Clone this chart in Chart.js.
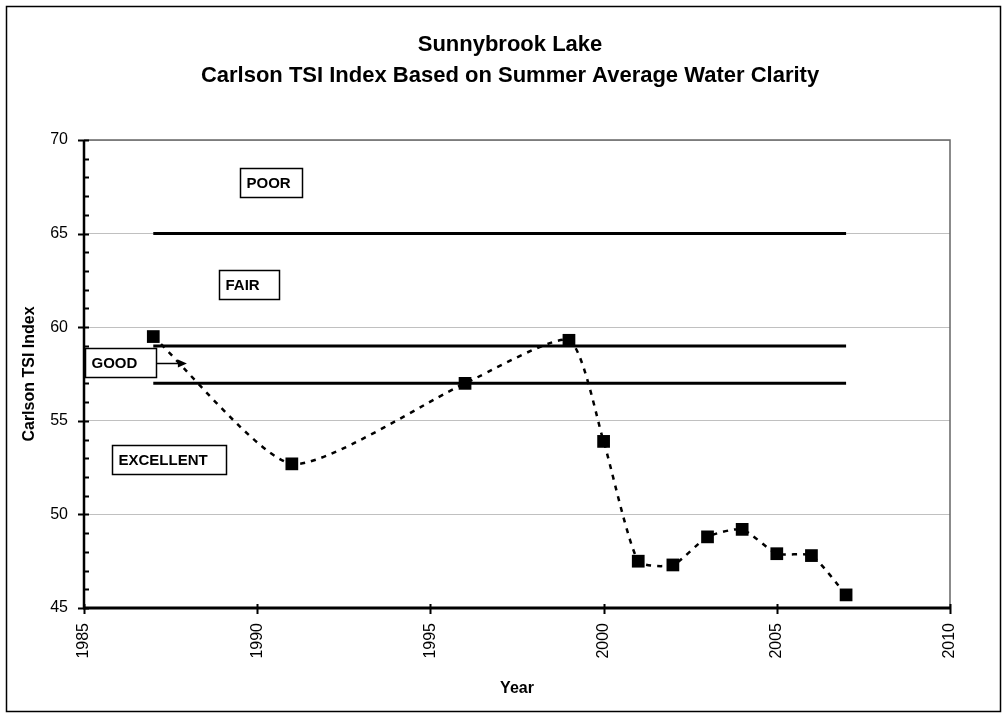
<!DOCTYPE html>
<html>
<head>
<meta charset="utf-8">
<script src="https://cdn.jsdelivr.net/npm/chart.js@4"></script>
<style>
  body { margin: 0; background: #fff; }
  #wrap { width: 1008px; height: 719px; position: relative; }
</style>
</head>
<body>
<div id="wrap"><canvas id="tsi"></canvas></div>
<script>
// sampling years and summer average TSI (from water clarity)
const years = [1987, 1991, 1996, 1999, 2000, 2001, 2002, 2003, 2004, 2005, 2006, 2007];
const tsiValues = [59.5, 52.7, 57.0, 59.3, 53.9, 47.5, 47.3, 48.8, 49.2, 47.9, 47.8, 45.7];

// trophic class boundaries, drawn across the sampled period
const boundaryYears = [1987, 2007];
const boundaryValues = [65, 59, 57];

const xTicks = [1985, 1990, 1995, 2000, 2005, 2010];
const yTicks = [45, 50, 55, 60, 65, 70];

const titleLines = ['Sunnybrook Lake', 'Carlson TSI Index Based on Summer Average Water Clarity'];
const zoneNames = ['POOR', 'FAIR', 'GOOD', 'EXCELLENT'];

const FONT = '"Liberation Sans", Arial, Helvetica, sans-serif';
Chart.defaults.font.family = FONT;
Chart.defaults.color = '#000';

const points = years.map((y, i) => ({ x: y, y: tsiValues[i] }));

const datasets = [{
  data: points,
  showLine: true,
  borderColor: '#000',
  borderWidth: 2.5,
  borderDash: [5, 6],
  tension: 0.2,
  pointStyle: 'rect',
  pointRadius: 9,
  pointHoverRadius: 9,
  pointBackgroundColor: '#000',
  pointBorderWidth: 0
}];
boundaryValues.forEach(v => {
  datasets.push({
    data: boundaryYears.map(y => ({ x: y, y: v })),
    showLine: true,
    borderColor: '#000',
    borderWidth: 3,
    pointRadius: 0,
    pointHoverRadius: 0
  });
});

// where the zone label boxes sit (left year, centre value, box width px)
const zoneBoxes = [
  { x: 1989.50, y: 67.73, w: 62 },
  { x: 1988.90, y: 62.28, w: 60 },
  { x: 1985.03, y: 58.11, w: 71, arrowTo: 1987.97 },
  { x: 1985.81, y: 52.91, w: 114 }
];

const decor = {
  id: 'decor',
  afterDraw(chart) {
    const ctx = chart.ctx;
    const a = chart.chartArea;
    const xs = chart.scales.x, ys = chart.scales.y;
    ctx.save();

    // plot area frame (top / right)
    ctx.strokeStyle = '#666';
    ctx.lineWidth = 1.5;
    ctx.beginPath();
    ctx.moveTo(a.left, a.top);
    ctx.lineTo(a.right, a.top);
    ctx.lineTo(a.right, a.bottom);
    ctx.stroke();

    // axes
    ctx.strokeStyle = '#000';
    ctx.lineWidth = 2.5;
    ctx.beginPath();
    ctx.moveTo(a.left, a.top);
    ctx.lineTo(a.left, a.bottom);
    ctx.stroke();
    ctx.lineWidth = 3;
    ctx.beginPath();
    ctx.moveTo(a.left - 1, a.bottom);
    ctx.lineTo(a.right + 1, a.bottom);
    ctx.stroke();

    // y ticks: majors cross, minors inside
    ctx.lineWidth = 2;
    ctx.beginPath();
    for (let v = 45; v <= 70; v++) {
      const py = Math.round(ys.getPixelForValue(v)) + 0.5;
      if (v % 5 === 0) { ctx.moveTo(a.left - 6, py); ctx.lineTo(a.left + 5, py); }
      else { ctx.moveTo(a.left, py); ctx.lineTo(a.left + 5, py); }
    }
    xTicks.forEach(t => {
      const px = Math.round(xs.getPixelForValue(t)) + 0.5;
      ctx.moveTo(px, a.bottom - 4);
      ctx.lineTo(px, a.bottom + 6);
    });
    ctx.stroke();

    // title
    ctx.fillStyle = '#000';
    ctx.textAlign = 'center';
    ctx.textBaseline = 'middle';
    ctx.font = 'bold 22px ' + FONT;
    ctx.fillText(titleLines[0], 510, 45);
    ctx.fillText(titleLines[1], 510, 76);

    // zone label boxes
    ctx.font = 'bold 15px ' + FONT;
    ctx.textAlign = 'left';
    zoneBoxes.forEach((b, i) => {
      const left = Math.round(xs.getPixelForValue(b.x)) + 0.5;
      const cy = ys.getPixelForValue(b.y);
      const top = Math.round(cy - 14.5) + 0.5;
      ctx.fillStyle = '#fff';
      ctx.fillRect(left, top, b.w, 29);
      ctx.strokeStyle = '#000';
      ctx.lineWidth = 1.5;
      ctx.strokeRect(left, top, b.w, 29);
      ctx.fillStyle = '#000';
      ctx.fillText(zoneNames[i], left + 6, top + 15);
      if (b.arrowTo) {
        const x1 = left + b.w, x2 = xs.getPixelForValue(b.arrowTo);
        const ay = Math.round(cy) + 0.5;
        ctx.lineWidth = 1.5;
        ctx.beginPath();
        ctx.moveTo(x1, ay);
        ctx.lineTo(x2 - 6, ay);
        ctx.stroke();
        ctx.beginPath();
        ctx.moveTo(x2, ay);
        ctx.lineTo(x2 - 9, ay - 4);
        ctx.lineTo(x2 - 9, ay + 4);
        ctx.closePath();
        ctx.fill();
      }
    });

    // outer chart border
    ctx.strokeStyle = '#000';
    ctx.lineWidth = 1.5;
    ctx.strokeRect(6.5, 6.5, 994, 705);
    ctx.restore();
  }
};

new Chart(document.getElementById('tsi'), {
  type: 'scatter',
  data: { datasets: datasets },
  options: {
    responsive: true,
    maintainAspectRatio: false,
    animation: false,
    layout: { padding: { top: 140, left: 8, right: 58, bottom: 8 } },
    plugins: { legend: { display: false }, tooltip: { enabled: false } },
    scales: {
      x: {
        type: 'linear',
        min: 1985,
        max: 2010,
        afterFit(s) { s.height = 103; },
        afterBuildTicks(s) { s.ticks = xTicks.map(v => ({ value: v })); },
        grid: { display: false, drawTicks: false },
        border: { display: false },
        ticks: {
          minRotation: 90,
          maxRotation: 90,
          padding: 15,
          font: { size: 16 },
          color: '#000',
          callback: v => String(v)
        },
        title: {
          display: true,
          text: 'Year',
          font: { size: 16, weight: 'bold' },
          padding: { top: 0, bottom: 13 },
          color: '#000'
        }
      },
      y: {
        min: 45,
        max: 70,
        afterFit(s) { s.width = 76; },
        afterBuildTicks(s) { s.ticks = yTicks.map(v => ({ value: v })); },
        grid: { color: '#c0c0c0', lineWidth: 1, drawTicks: false },
        border: { display: false },
        ticks: { padding: 16, font: { size: 16 }, color: '#000' },
        title: {
          display: true,
          text: 'Carlson TSI Index',
          font: { size: 16, weight: 'bold' },
          padding: { top: 12, bottom: 0 },
          color: '#000'
        }
      }
    }
  },
  plugins: [decor]
});
</script>
</body>
</html>
